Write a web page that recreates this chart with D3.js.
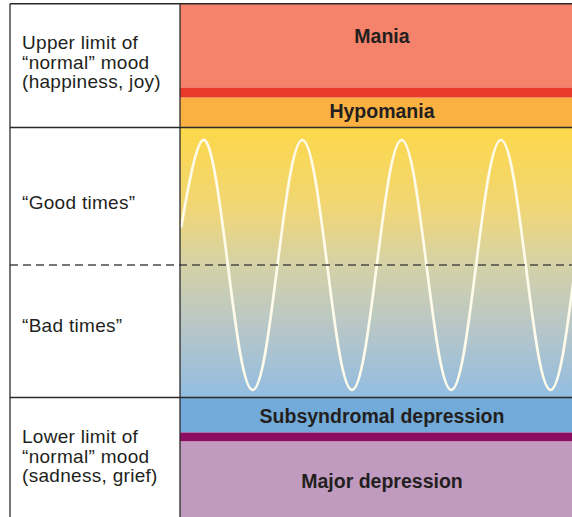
<!DOCTYPE html>
<html>
<head>
<meta charset="utf-8">
<style>
  body { margin: 0; background: #fff; }
  svg text { font-family: "Liberation Sans", Arial, Helvetica, sans-serif; fill: #231f20; }
</style>
<title>Mood range</title>
</head>
<body>
<svg id="chart"></svg>
<script src="https://cdn.jsdelivr.net/npm/d3@7"></script>
<script>

/*========== Data (mood units: +1 = peak of normal swing, -1 = trough) ==========*/

// coloured zones on the right
var zoneNames  = ["Mania", "Hypomania", "Subsyndromal depression", "Major depression"];
var zoneTop    = [2.09, 1.34, -1.06, -1.41];
var zoneBottom = [1.42, 1.10, -1.34, -2.02];
var zoneLabelMood = [1.78, 1.18, -1.265, -1.785];

// thin limit bands (red above hypomania, purple above major depression)
var limitTop    = [1.42, -1.34];
var limitBottom = [1.34, -1.41];

// normal range between the two solid lines
var normalTop = 1.10, normalBottom = -1.06;

// labels in the left column
var leftLabels = [
    ["Upper limit of", "\u201cnormal\u201d mood", "(happiness, joy)"],
    ["\u201cGood times\u201d"],
    ["\u201cBad times\u201d"],
    ["Lower limit of", "\u201cnormal\u201d mood", "(sadness, grief)"]
];
var leftLabelMood = [1.728, 0.448, -0.536, -1.424];

// mood swing, sampled every 1/8 of a cycle
var waveT = [0.03, 0.125, 0.25, 0.375, 0.5, 0.625, 0.75, 0.875,
             1.0, 1.125, 1.25, 1.375, 1.5, 1.625, 1.75, 1.875,
             2.0, 2.125, 2.25, 2.375, 2.5, 2.625, 2.75, 2.875,
             3.0, 3.125, 3.25, 3.375, 3.5, 3.625, 3.75, 3.875, 4.0];
var waveMood = [0.30, 0.71, 1, 0.71, 0, -0.71, -1, -0.71,
                0, 0.71, 1, 0.71, 0, -0.71, -1, -0.71,
                0, 0.71, 1, 0.71, 0, -0.71, -1, -0.71,
                0, 0.71, 1, 0.71, 0, -0.71, -1, -0.71, 0];

/*========== Styles ==========*/
var ZONE_COLORS  = ["#f5826a", "#fbb142", "#72abd9", "#c19bbf"];
var LIMIT_COLORS = ["#e8392b", "#8c0b63"];

var width = 572, height = 517;
var colLeft = 10, colSplit = 180;

var svg = d3.select("#chart")
    .attr("width", width)
    .attr("height", height);

// Scales
var y = d3.scaleLinear().domain([-1, 1]).range([390, 140]);
var x = d3.scaleLinear().domain([0, 1]).range([178.2, 277.5]);

// gradient for the normal zone
var grad = svg.append("defs").append("linearGradient")
    .attr("id", "normalGrad")
    .attr("x1", 0).attr("y1", 0).attr("x2", 0).attr("y2", 1);
[[0, "#fdd84a"], [0.3, "#f0d676"], [0.5, "#d6d2a6"], [0.75, "#b6c6c8"], [1, "#92bde2"]]
    .forEach(function(s) {
        grad.append("stop").attr("offset", s[0]).attr("stop-color", s[1]);
    });

// Zones
svg.selectAll("rect.zone")
    .data(zoneNames)
    .enter().append("rect")
        .attr("class", "zone")
        .attr("x", colSplit)
        .attr("width", width - colSplit)
        .attr("y", (d, i) => y(zoneTop[i]))
        .attr("height", (d, i) => y(zoneBottom[i]) - y(zoneTop[i]))
        .attr("fill", (d, i) => ZONE_COLORS[i]);

svg.append("rect")
    .attr("x", colSplit)
    .attr("width", width - colSplit)
    .attr("y", y(normalTop))
    .attr("height", y(normalBottom) - y(normalTop))
    .attr("fill", "url(#normalGrad)");

svg.selectAll("rect.limit")
    .data(limitTop)
    .enter().append("rect")
        .attr("class", "limit")
        .attr("x", colSplit)
        .attr("width", width - colSplit)
        .attr("y", d => y(d))
        .attr("height", (d, i) => y(limitBottom[i]) - y(d))
        .attr("fill", (d, i) => LIMIT_COLORS[i]);

// Zone labels
svg.selectAll("text.zoneLabel")
    .data(zoneNames)
    .enter().append("text")
        .attr("class", "zoneLabel")
        .attr("x", (colSplit + width) / 2 + 6)
        .attr("y", (d, i) => y(zoneLabelMood[i]))
        .attr("text-anchor", "middle")
        .attr("font-weight", "bold")
        .attr("font-size", 19.5)
        .text(d => d);

// Mood wave
var wave = d3.line()
    .x(d => x(d[0]))
    .y(d => y(d[1]))
    .curve(d3.curveNatural);
svg.append("path")
    .datum(waveT.map((t, i) => [t, waveMood[i]]))
    .attr("d", wave)
    .attr("fill", "none")
    .attr("stroke", "#fffbea")
    .attr("stroke-width", 2.7);

// Dashed zero line
svg.append("line")
    .attr("x1", colLeft).attr("x2", width)
    .attr("y1", y(0)).attr("y2", y(0))
    .attr("stroke", "#4a4a44")
    .attr("stroke-width", 1.5)
    .attr("stroke-dasharray", "8,5");

// Frame lines
var frame = svg.append("g")
    .attr("stroke", "#2a2a2a")
    .attr("stroke-width", 1.3);
[zoneTop[0], normalTop, normalBottom].forEach(function(m) {
    frame.append("line")
        .attr("x1", colLeft).attr("x2", width)
        .attr("y1", y(m)).attr("y2", y(m));
});
[colLeft, colSplit].forEach(function(cx) {
    frame.append("line")
        .attr("x1", cx).attr("x2", cx)
        .attr("y1", y(zoneTop[0])).attr("y2", height);
});

// Left column labels
leftLabels.forEach(function(lines, i) {
    var t = svg.append("text")
        .attr("x", 22)
        .attr("y", y(leftLabelMood[i]))
        .attr("font-size", 19)
        .attr("letter-spacing", 0.3);
    lines.forEach(function(s, j) {
        t.append("tspan")
            .attr("x", 22)
            .attr("dy", j == 0 ? 0 : 19.6)
            .text(s);
    });
});

</script>
</body>
</html>
